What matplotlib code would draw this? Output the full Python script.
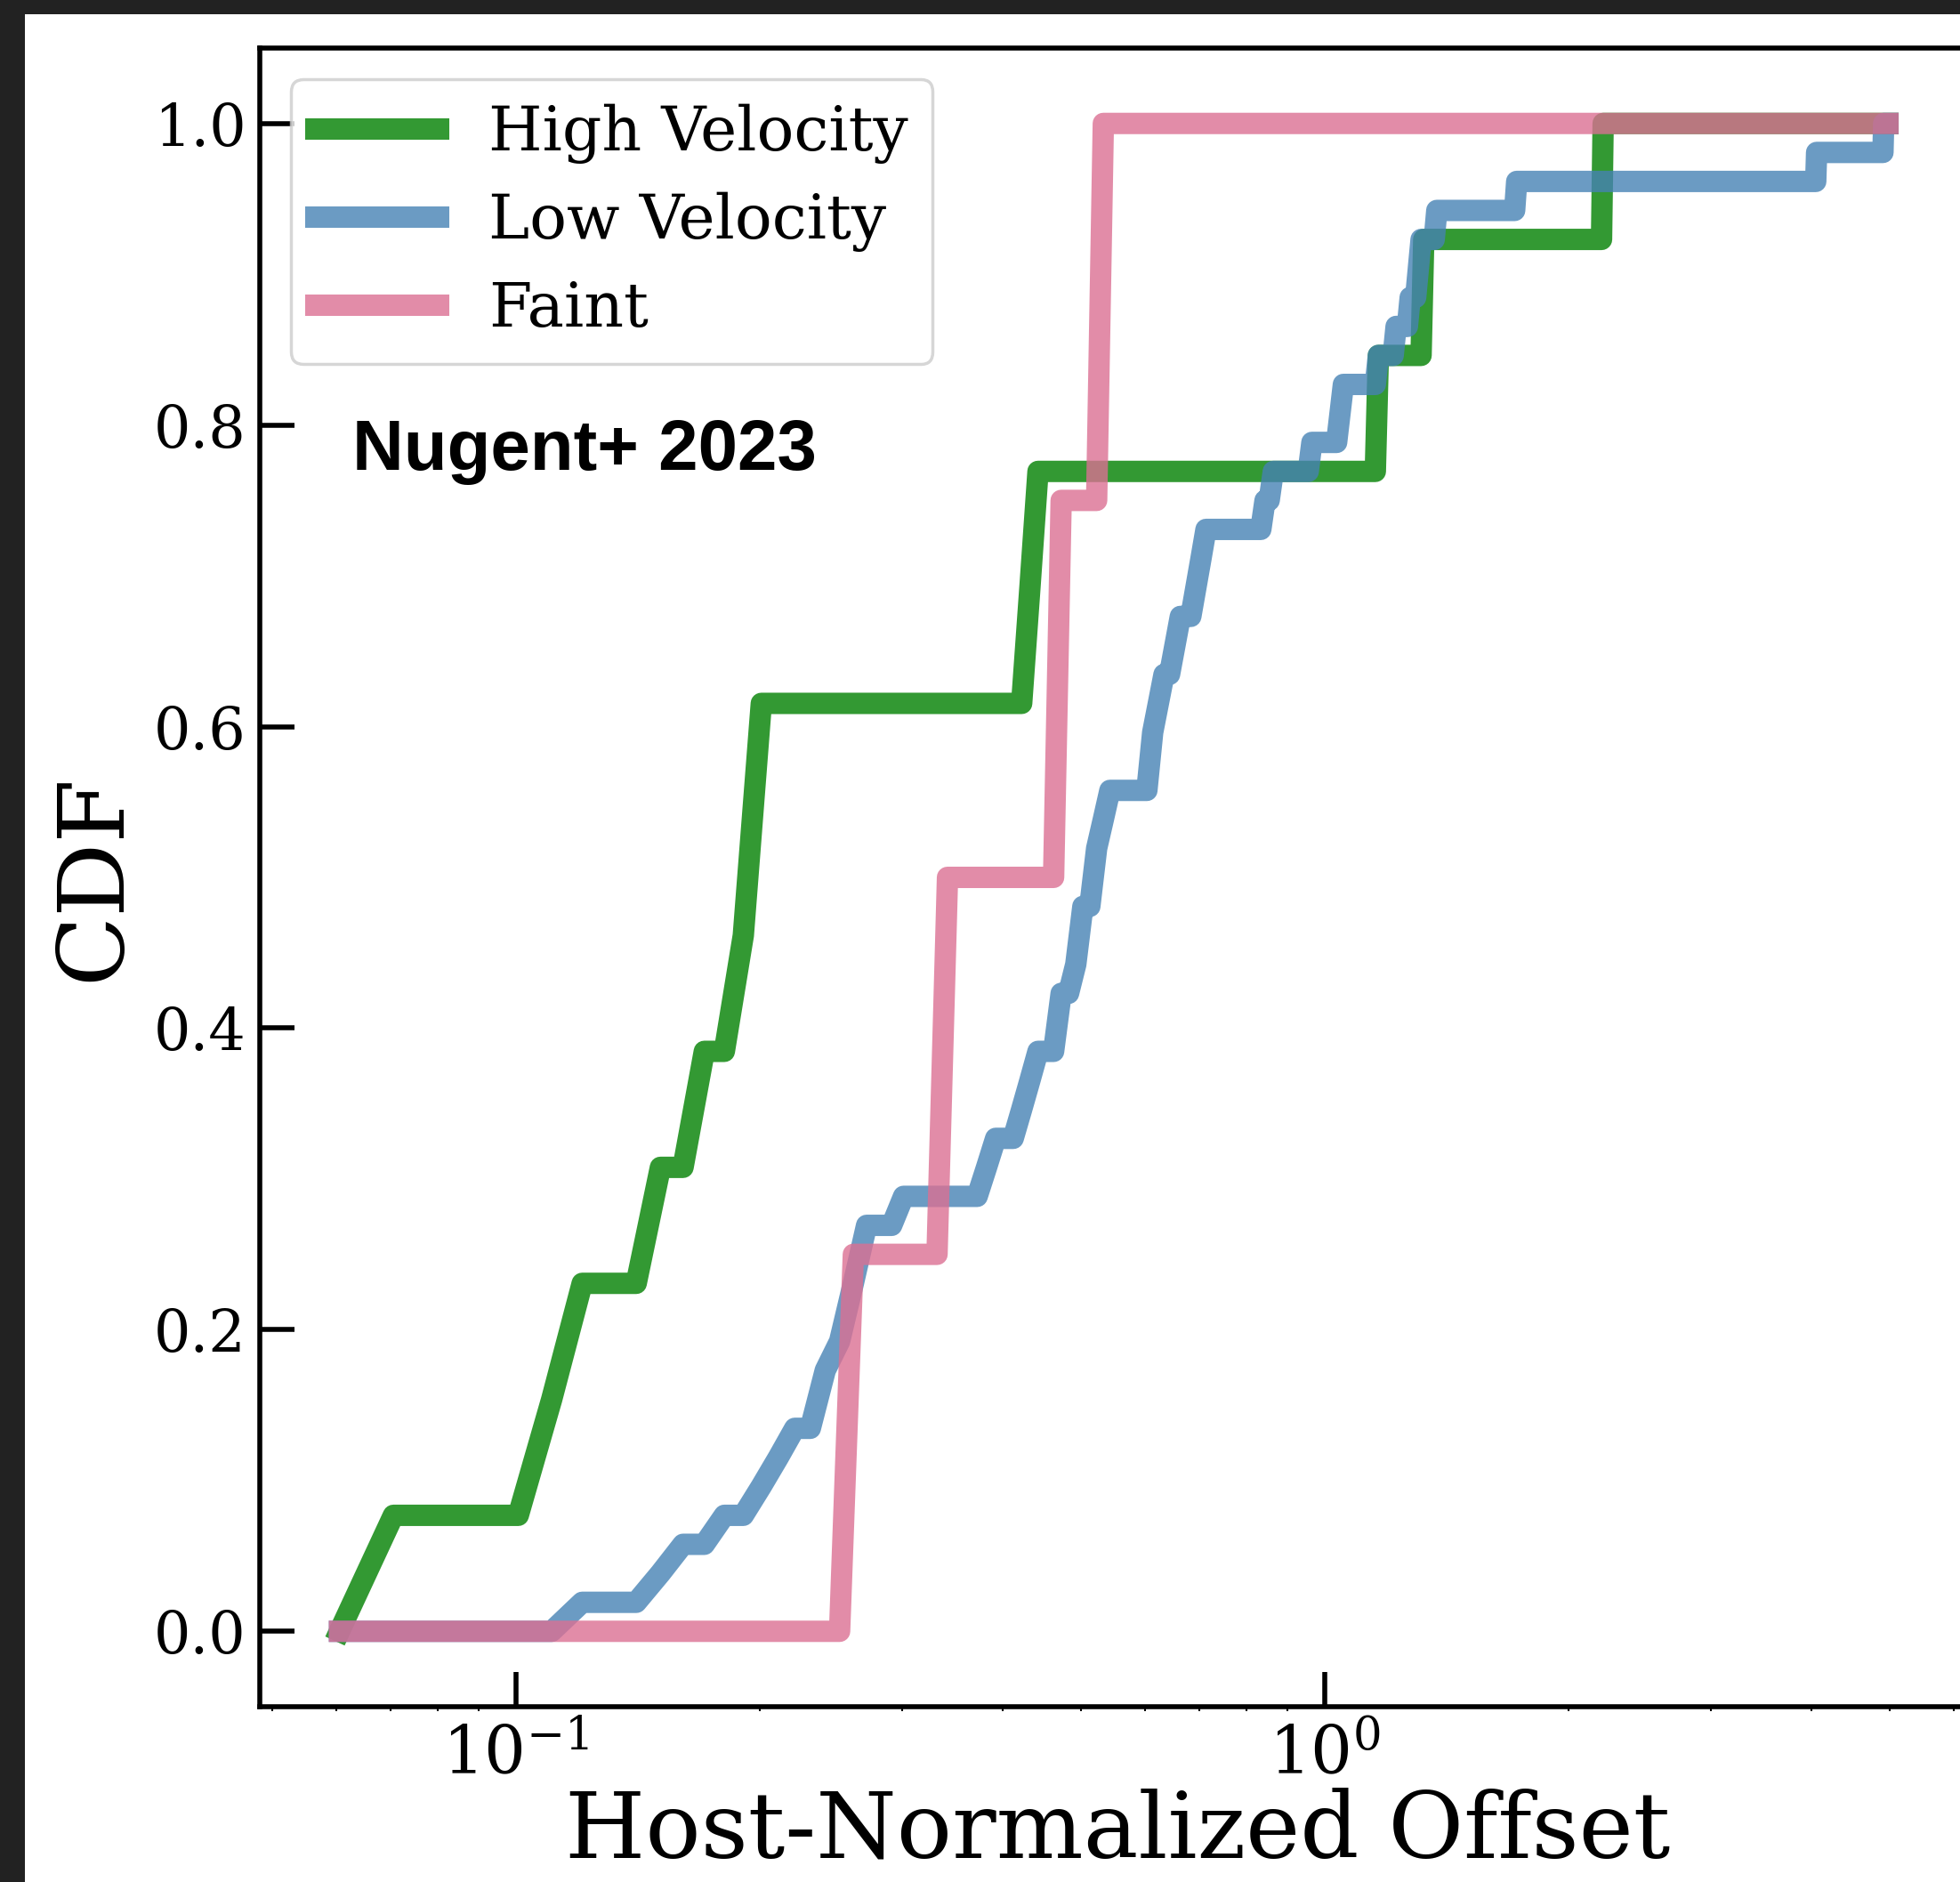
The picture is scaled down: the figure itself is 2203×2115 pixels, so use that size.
import numpy as np
import matplotlib
matplotlib.use("Agg")
import matplotlib.pyplot as plt
from matplotlib.patches import Rectangle
from matplotlib.ticker import NullFormatter

# ---- data: host-normalized offsets of individual objects ----
high_velocity = [0.065, 0.105, 0.115, 0.145, 0.165, 0.185, 0.195, 0.198,
                 0.430, 0.432, 1.16, 1.32, 2.20]
low_velocity = [0.115, 0.145, 0.155, 0.176, 0.195, 0.205, 0.215, 0.236, 0.240,
                0.248, 0.256, 0.258, 0.267, 0.270, 0.298, 0.380, 0.390, 0.420,
                0.430, 0.432, 0.470, 0.472, 0.490, 0.500, 0.502, 0.520, 0.522,
                0.530, 0.540, 0.603, 0.612, 0.622, 0.632, 0.645, 0.653, 0.685,
                0.695, 0.705, 0.835, 0.860, 0.955, 1.040, 1.045, 1.16, 1.22,
                1.27, 1.305, 1.31, 1.37, 1.72, 4.05, 4.90]
faint = [0.258, 0.335, 0.465, 0.530]

series_labels = ["High Velocity", "Low Velocity", "Faint"]
series_colors = ["green", "steelblue", "palevioletred"]

# evaluation grid of the CDF (linear spacing, drawn on a log axis)
grid_start, grid_stop, grid_count = 0.0605, 4.97, 490

plt.rcParams["font.family"] = "DejaVu Serif"
plt.rcParams["mathtext.fontset"] = "dejavuserif"

W, H = 2203, 2115
fig = plt.figure(figsize=(W / 100, H / 100), dpi=100)
fig.patch.set_facecolor("#222222")
fig.add_artist(Rectangle((28 / W, 0), 1, 1 - 16 / H, transform=fig.transFigure,
                         facecolor="white", edgecolor="none", zorder=-10))

ax = fig.add_axes([292 / W, 1 - 1918 / H, 1928 / W, (1918 - 54) / H])

grid = np.linspace(grid_start, grid_stop, grid_count)


def cdf_on_grid(values):
    v = np.sort(np.asarray(values))
    return np.searchsorted(v, grid, side="right") / len(v)


for vals, lab, col in zip([high_velocity, low_velocity, faint], series_labels, series_colors):
    ax.plot(grid, cdf_on_grid(vals), color=col, lw=17.3, alpha=0.8, label=lab)

ax.set_xscale("log")
ax.set_xlim(0.04822, 6.37)
ax.set_ylim(-0.05, 1.05)
ax.xaxis.set_minor_formatter(NullFormatter())

for s in ax.spines.values():
    s.set_linewidth(4)

ax.tick_params(which="major", direction="in", length=28, width=4, labelsize=47)
ax.tick_params(which="minor", direction="out", length=3.5, width=1.5)
ax.tick_params(axis="x", which="major", pad=13, labelsize=53)
ax.tick_params(axis="y", which="major", pad=11)
ax.set_yticks([0.0, 0.2, 0.4, 0.6, 0.8, 1.0])

ax.set_xlabel("Host-Normalized Offset", fontsize=74.5, labelpad=0)
ax.set_ylabel("CDF", fontsize=74.5, labelpad=13)

leg = ax.legend(loc="upper left", fontsize=50, handlelength=2.0, handletextpad=0.8,
                labelspacing=0.46, borderpad=0.4, borderaxespad=0.5)
leg.get_frame().set_linewidth(2.5)
leg.get_frame().set_edgecolor("0.8")

ax.text(0.0539, 0.7455, "Nugent+ 2023", transform=ax.transAxes, fontsize=57.5,
        fontweight="bold", family="Liberation Sans", va="baseline", ha="left")

fig.savefig("out.png", dpi=100, facecolor=fig.get_facecolor())
